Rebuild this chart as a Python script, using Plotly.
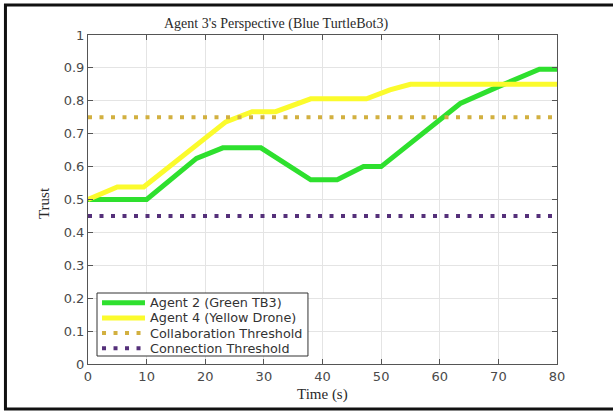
import plotly.graph_objects as go

# Trust estimates from Agent 3's point of view
agent2_time = [0, 10, 18.5, 23, 29.5, 38, 42.5, 47, 50, 63.5, 70, 77, 80]
agent2_trust = [0.50, 0.50, 0.625, 0.657, 0.657, 0.56, 0.56, 0.60, 0.60, 0.792, 0.843, 0.896, 0.896]

agent4_time = [0, 5, 9.5, 23.5, 28, 32, 38, 47.5, 51.5, 55, 80]
agent4_trust = [0.50, 0.538, 0.538, 0.736, 0.767, 0.767, 0.806, 0.806, 0.833, 0.850, 0.850]

threshold_time = [0, 80]
collaboration_threshold = 0.75
connection_threshold = 0.45

x_ticks = list(range(0, 81, 10))
y_ticks = [i / 10 for i in range(0, 11)]
y_tick_labels = ["0", "0.1", "0.2", "0.3", "0.4", "0.5", "0.6", "0.7", "0.8", "0.9", "1"]

series_names = ["Agent 2 (Green TB3)", "Agent 4 (Yellow Drone)",
                "Collaboration Threshold", "Connection Threshold"]
series_colors = ["#2ee02e", "#fbfb2c", "#d2b040", "#55307a"]
series_widths = [5, 5, 4, 4]
series_dashes = ["solid", "solid", "4px,7.5px", "4px,7.5px"]

series_x = [agent2_time, agent4_time, threshold_time, threshold_time]
series_y = [agent2_trust, agent4_trust,
            [collaboration_threshold] * 2, [connection_threshold] * 2]

fig = go.Figure()
for name, xs, ys, color, width, dash in zip(series_names, series_x, series_y,
                                            series_colors, series_widths, series_dashes):
    fig.add_trace(go.Scatter(x=xs, y=ys, mode="lines", name=name, showlegend=False,
                             line=dict(color=color, width=width, dash=dash)))

axis_style = dict(showline=True, linecolor="#555555", linewidth=1, mirror="ticks",
                  ticks="inside", ticklen=5, tickcolor="#555555",
                  showgrid=True, gridcolor="#e4e4e4", gridwidth=1, zeroline=False,
                  tickfont=dict(family="DejaVu Sans", size=13, color="#4a4a4a"))

fig.update_xaxes(range=[0, 80], tickvals=x_ticks, **axis_style)
fig.update_yaxes(range=[0, 1], tickvals=y_ticks, ticktext=y_tick_labels, **axis_style)

serif = "Liberation Serif"
annotations = [
    dict(text="Agent 3's Perspective (Blue TurtleBot3)", xref="paper", yref="paper",
         x=0.401, y=1.033, xanchor="center", yanchor="middle", showarrow=False,
         font=dict(family=serif, size=14, color="#2a2a2a")),
    dict(text="Trust", xref="paper", yref="paper", x=-0.094, y=0.489,
         xanchor="center", yanchor="middle", textangle=-90, showarrow=False,
         font=dict(family=serif, size=15, color="#2a2a2a")),
    dict(text="Time (s)", xref="paper", yref="paper", x=0.5, y=-0.094,
         xanchor="center", yanchor="middle", showarrow=False,
         font=dict(family=serif, size=15, color="#2a2a2a")),
]

shapes = [
    # outer frame around the whole figure
    dict(type="rect", xref="paper", yref="paper",
         x0=-0.176, x1=1.2, y0=-0.137, y1=1.091,
         line=dict(color="#111111", width=3), layer="above"),
    # legend box in the lower-left corner of the axes
    dict(type="rect", xref="paper", yref="paper",
         x0=0.0192, x1=0.469, y0=0.0243, y1=0.2158,
         fillcolor="white", line=dict(color="#333333", width=1), layer="above"),
]

# legend rows: sample line followed by the series label
legend_top, legend_step = 0.1863, 0.0462
for i, (name, color, width, dash) in enumerate(zip(series_names, series_colors,
                                                   series_widths, series_dashes)):
    row_y = legend_top - i * legend_step
    shapes.append(dict(type="line", xref="paper", yref="paper",
                       x0=0.0299, x1=0.1215, y0=row_y, y1=row_y, layer="above",
                       line=dict(color=color, width=width, dash=dash)))
    annotations.append(dict(text=name, xref="paper", yref="paper", x=0.128, y=row_y,
                            xanchor="left", yanchor="middle", showarrow=False,
                            font=dict(family="DejaVu Sans", size=12.8, color="#333333")))

fig.update_layout(
    width=613, height=411,
    margin=dict(l=88, r=56, t=35, b=47),
    paper_bgcolor="white", plot_bgcolor="white",
    showlegend=False,
    annotations=annotations,
    shapes=shapes,
)

fig.write_html("out.html")
